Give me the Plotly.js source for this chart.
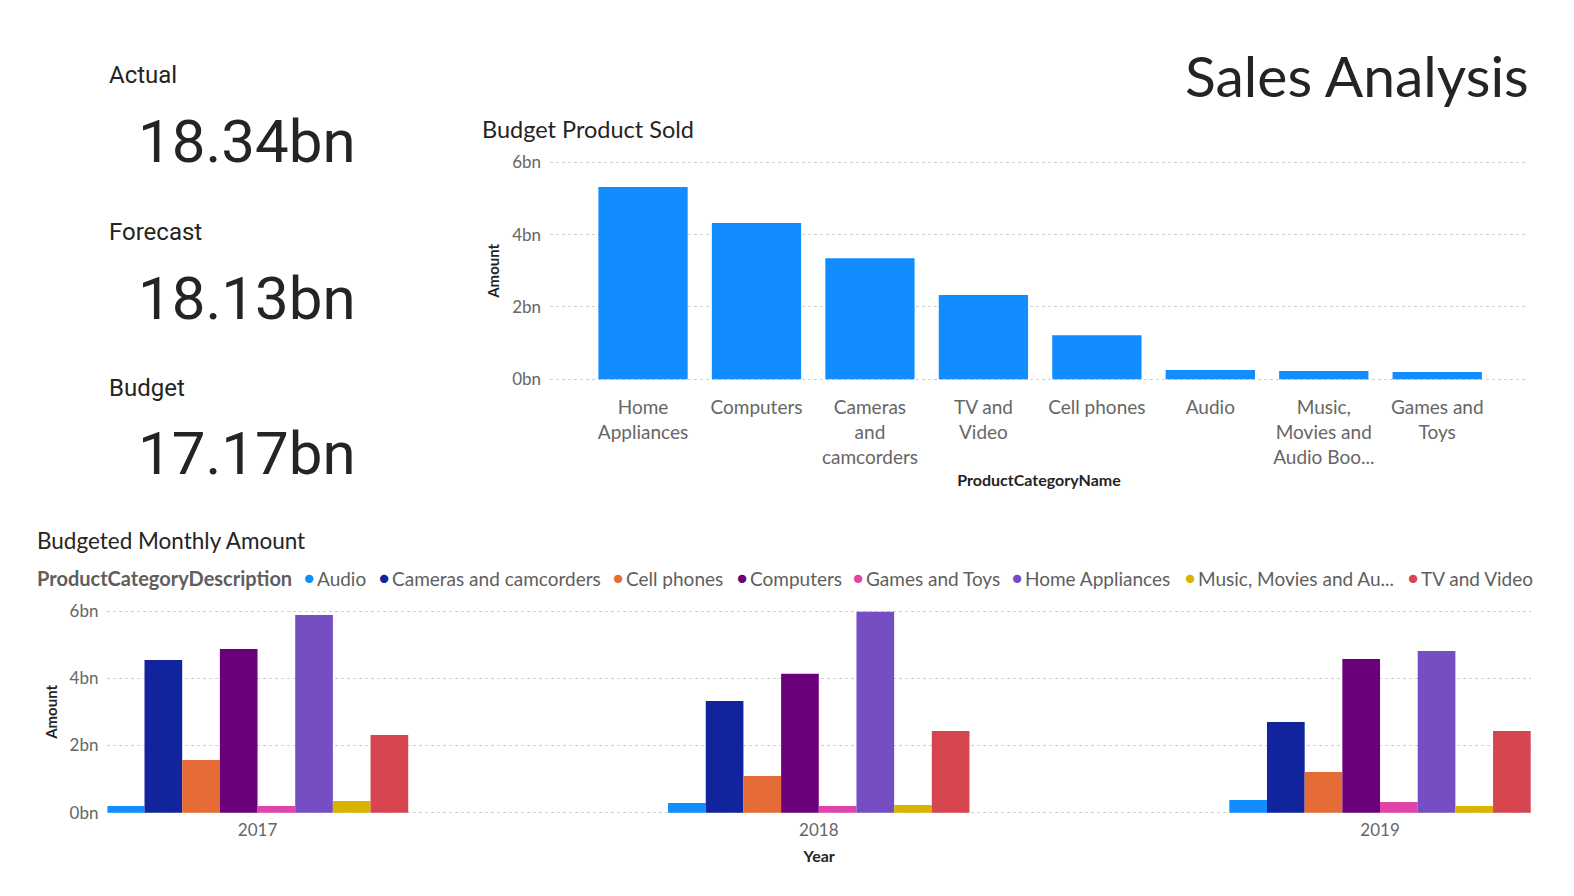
<!DOCTYPE html>
<html><head><meta charset="utf-8">
<script src="https://cdn.plot.ly/plotly-3.0.1.min.js"></script>
<style>html,body{margin:0;padding:0;background:#fff;overflow:hidden}#chart{width:1574px;height:896px}</style>
</head><body><div id="chart"></div>
<script>
// ---------- data ----------
const productCategories = ['Home Appliances','Computers','Cameras and camcorders','TV and Video','Cell phones','Audio','Music, Movies and Audio Books','Games and Toys'];
const productTickLabels = ['Home<br>Appliances','Computers','Cameras<br>and<br>camcorders','TV and<br>Video','Cell phones','Audio','Music,<br>Movies and<br>Audio Boo...','Games and<br>Toys'];
const budgetProductSold = [5.32, 4.32, 3.35, 2.33, 1.22, 0.26, 0.23, 0.20]; // bn

const years = ['2017','2018','2019'];
const seriesNames = ['Audio','Cameras and camcorders','Cell phones','Computers','Games and Toys','Home Appliances','Music, Movies and Audio Books','TV and Video'];
const legendLabels = ['Audio','Cameras and camcorders','Cell phones','Computers','Games and Toys','Home Appliances','Music, Movies and Au...','TV and Video'];
const audio             = [0.20, 0.29, 0.38];
const camerasCamcorders = [4.54, 3.32, 2.70];
const cellPhones        = [1.57, 1.09, 1.21];
const computers         = [4.87, 4.13, 4.57];
const gamesToys         = [0.20, 0.20, 0.32];
const homeAppliances    = [5.88, 5.98, 4.81];
const musicMovies       = [0.35, 0.23, 0.20];
const tvVideo           = [2.31, 2.43, 2.43];
const monthlySeries = [audio, camerasCamcorders, cellPhones, computers, gamesToys, homeAppliances, musicMovies, tvVideo];

const kpiLabels = ['Actual','Forecast','Budget'];
const kpiValues = ['18.34bn','18.13bn','17.17bn'];
const amountTicks = [0, 2, 4, 6];
const amountTickText = ['0bn','2bn','4bn','6bn'];

// ---------- styles ----------
const W = 1574, H = 896;
const px = x => x / W, py = y => 1 - y / H;
const seriesColors = ['#118DFF','#12239E','#E66C37','#6B007B','#E044A7','#744EC2','#D9B300','#D64550'];
const FONT = 'Segoe UI, Lato, sans-serif';
const DIN = 'Roboto, DejaVu Sans, sans-serif';
const dark = '#252423', gray = '#605E5C', tickGray = '#666666';

const traces = [];
traces.push({
  type: 'bar', x: productCategories, y: budgetProductSold, xaxis: 'x', yaxis: 'y',
  marker: {color: '#118DFF'}, width: 0.787, showlegend: false, hoverinfo: 'skip'
});
seriesNames.forEach((name, i) => {
  traces.push({
    type: 'bar', name: name, x: years, y: monthlySeries[i], xaxis: 'x2', yaxis: 'y2',
    marker: {color: seriesColors[i]}, showlegend: false, hoverinfo: 'skip'
  });
});

const gridStyle = {showgrid: true, gridcolor: '#CFCFCF', griddash: 'dot', gridwidth: 1, zeroline: false, showline: false};

const annotations = [];
function txt(text, x, y, size, color, opts) {
  annotations.push(Object.assign({text, x: px(x), y: py(y), xref: 'paper', yref: 'paper',
    xanchor: 'left', yanchor: 'middle', showarrow: false,
    font: {family: FONT, size, color}}, opts || {}));
}
txt('Sales Analysis', 1531, 75, 57, dark, {xanchor: 'right'});
const kpiY = [[75, 141.5], [232, 298], [387.5, 453.7]];
kpiLabels.forEach((l, i) => {
  txt(l, 106.5, kpiY[i][0], 24, dark, {font: {family: DIN, size: 24, color: dark}});
  txt(kpiValues[i], 136, kpiY[i][1], 60, dark, {font: {family: DIN, size: 60, color: dark}});
});
txt('Budget Product Sold', 480, 128.5, 23.5, dark);
txt('Budgeted Monthly Amount', 35, 540, 22.5, dark);
txt('<b>ProductCategoryDescription</b>', 35, 578, 20, gray);
const legendDotX = [309, 383.5, 618, 742, 858, 1017, 1189.5, 1413];
legendLabels.forEach((l, i) => {
  txt('●', legendDotX[i], 577, 17, seriesColors[i], {xanchor: 'center'});
  txt(l, legendDotX[i] + 6, 578, 19, gray);
});

const eps = 0.08;
const layout = {
  width: W, height: H, margin: {l: 0, r: 0, t: 0, b: 0},
  paper_bgcolor: '#fff', plot_bgcolor: 'rgba(0,0,0,0)',
  barmode: 'group', bargap: 0.463, bargroupgap: 0,
  font: {family: FONT, color: tickGray},
  xaxis: {domain: [px(550), px(1528)], anchor: 'y', type: 'category',
    range: [-0.82, 7.80], tickvals: productCategories, ticktext: productTickLabels,
    showgrid: false, zeroline: false, showline: false, ticks: '', ticklabelstandoff: 12,
    tickfont: {family: FONT, size: 19, color: tickGray},
    title: {text: '<b>ProductCategoryName</b>', standoff: 8, font: {family: FONT, size: 16, color: dark}}},
  yaxis: Object.assign({domain: [py(379.3 + eps * 36.17), py(162.3 - eps * 36.17)], anchor: 'x', range: [-eps, 6 + eps],
    tickvals: amountTicks, ticktext: amountTickText, ticks: '', ticklabelstandoff: 8,
    tickfont: {family: FONT, size: 17, color: tickGray},
    title: {text: '<b>Amount</b>', standoff: 8, font: {family: FONT, size: 15, color: dark}}}, gridStyle),
  xaxis2: {domain: [px(107.4), px(1531)], anchor: 'y2', type: 'category',
    range: [-0.2675, 2.269], showgrid: false, zeroline: false, showline: false, ticks: '', ticklabelstandoff: 3,
    tickfont: {family: FONT, size: 17, color: tickGray},
    title: {text: '<b>Year</b>', standoff: 11, font: {family: FONT, size: 16, color: dark}}},
  yaxis2: Object.assign({domain: [py(812.7 + eps * 33.6), py(611 - eps * 33.6)], anchor: 'x2', range: [-eps, 6 + eps],
    tickvals: amountTicks, ticktext: amountTickText, ticks: '', ticklabelstandoff: 8,
    tickfont: {family: FONT, size: 17, color: tickGray},
    title: {text: '<b>Amount</b>', standoff: 8, font: {family: FONT, size: 15, color: dark}}}, gridStyle),
  annotations
};
Plotly.newPlot('chart', traces, layout, {staticPlot: true, displayModeBar: false});
</script></body></html>
